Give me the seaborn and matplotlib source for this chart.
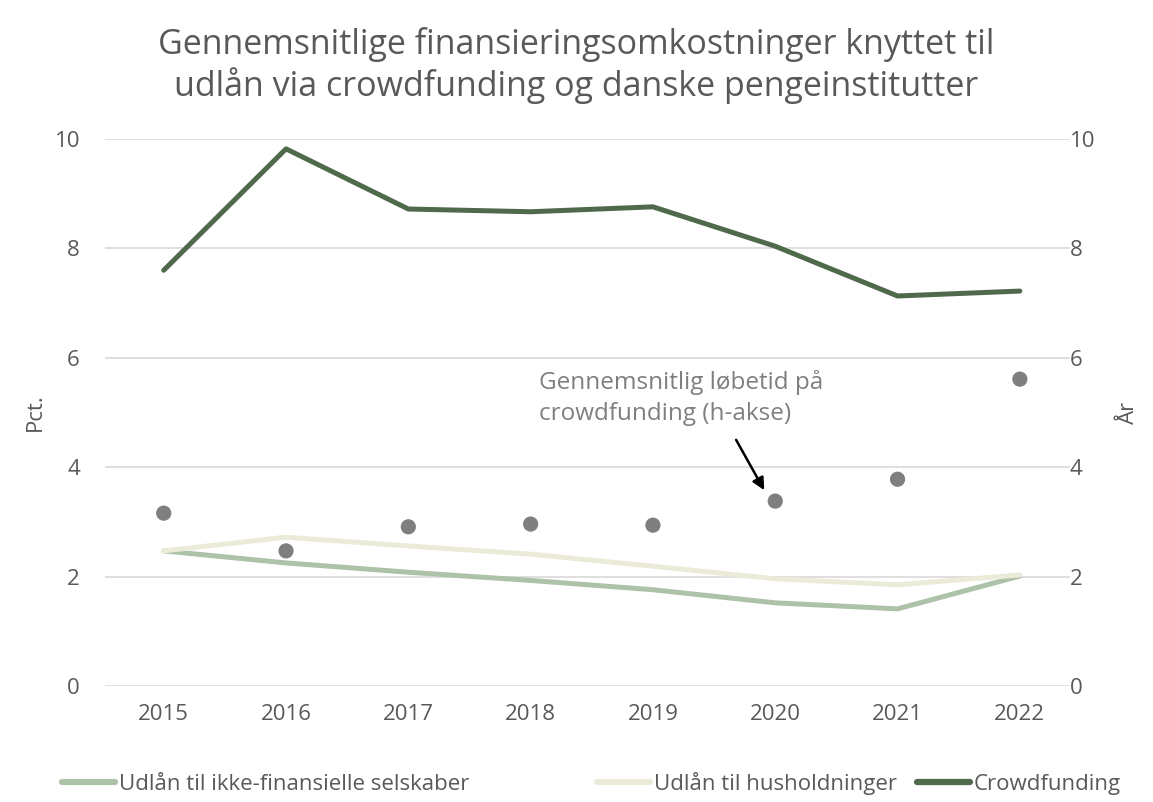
import pandas as pd
import matplotlib.pyplot as plt
import seaborn as sns

# Data
aar = ['2015', '2016', '2017', '2018', '2019', '2020', '2021', '2022']
ikke_fin = [2.47, 2.25, 2.08, 1.93, 1.76, 1.52, 1.41, 2.01]
husholdninger = [2.47, 2.72, 2.56, 2.41, 2.19, 1.96, 1.85, 2.03]
crowdfunding = [7.60, 9.82, 8.72, 8.67, 8.76, 8.04, 7.13, 7.22]
loebetid = [3.16, 2.47, 2.91, 2.96, 2.94, 3.38, 3.78, 5.61]

serier = ['Udlån til ikke-finansielle selskaber', 'Udlån til husholdninger', 'Crowdfunding']
farver = ['#adc2a9', '#ecebd9', '#4f6a4b']

df = pd.DataFrame({
    'År': aar * 3,
    'Pct.': ikke_fin + husholdninger + crowdfunding,
    'Serie': [serier[0]] * 8 + [serier[1]] * 8 + [serier[2]] * 8,
})
df_prik = pd.DataFrame({'År': aar, 'Løbetid': loebetid})

sns.set_style('white')
plt.rcParams['font.family'] = ['Open Sans', 'DejaVu Sans']
tekst = '#595959'

fig = plt.figure(figsize=(11.53, 8.02), dpi=100)
ax = fig.add_axes([105 / 1153, 1 - 686 / 802, 965 / 1153, 547 / 802])

sns.lineplot(data=df, x='År', y='Pct.', hue='Serie', hue_order=serier,
             palette=farver, linewidth=3.6, sort=False, ax=ax, legend=False)
ax.set_ylim(0, 10)
ax.set_xlim(-0.48, 7.41)
ax.set_yticks([0, 2, 4, 6, 8, 10])
ax.yaxis.grid(True, color='#d9d9d9', linewidth=1.2)
ax.set_axisbelow(True)
for s in ax.spines.values():
    s.set_visible(False)
ax.tick_params(axis='both', length=0, labelsize=16, labelcolor=tekst)
ax.tick_params(axis='y', pad=18)
ax.tick_params(axis='x', pad=13)
ax.set_xlabel('')
ax.set_ylabel('Pct.', fontsize=16, color=tekst, labelpad=6)

ax2 = ax.twinx()
sns.scatterplot(data=df_prik, x='År', y='Løbetid', color='#7f7f7f', s=120,
                edgecolor='none', ax=ax2, legend=False)
ax2.set_ylim(0, 10)
ax2.set_xlim(-0.48, 7.41)
ax2.set_yticks([0, 2, 4, 6, 8, 10])
for s in ax2.spines.values():
    s.set_visible(False)
ax2.tick_params(axis='y', length=0, labelsize=16, labelcolor=tekst, pad=0)
ax2.set_ylabel('År', fontsize=16, color=tekst, labelpad=16)

ax2.text(3.07, 5.78, 'Gennemsnitlig løbetid på\ncrowdfunding (h-akse)', fontsize=17.5,
         color='#7f7f7f', ha='left', va='top', linespacing=1.38)
ax2.annotate('', xy=(4.91, 3.58), xytext=(4.68, 4.50),
             arrowprops=dict(arrowstyle='-|>', color='black', lw=1.8, mutation_scale=18,
                             shrinkA=0, shrinkB=0))

fig.suptitle('Gennemsnitlige finansieringsomkostninger knyttet til\nudlån via crowdfunding og danske pengeinstitutter',
             fontsize=24.5, color=tekst, y=0.966, linespacing=1.18)

# Forklaring placeret som i originalen (ujævn afstand)
for navn, farve, x0 in zip(serier, farver, [62, 597, 917]):
    h = plt.Line2D([0], [0], color=farve, linewidth=4.5, solid_capstyle='round')
    fig.legend([h], [navn], loc='lower left', bbox_to_anchor=(x0 / 1153, 0.009),
               frameon=False, fontsize=16, labelcolor=tekst, handlelength=2.4,
               handletextpad=0.15, borderaxespad=0, borderpad=0)

plt.savefig('out.png', dpi=100)
